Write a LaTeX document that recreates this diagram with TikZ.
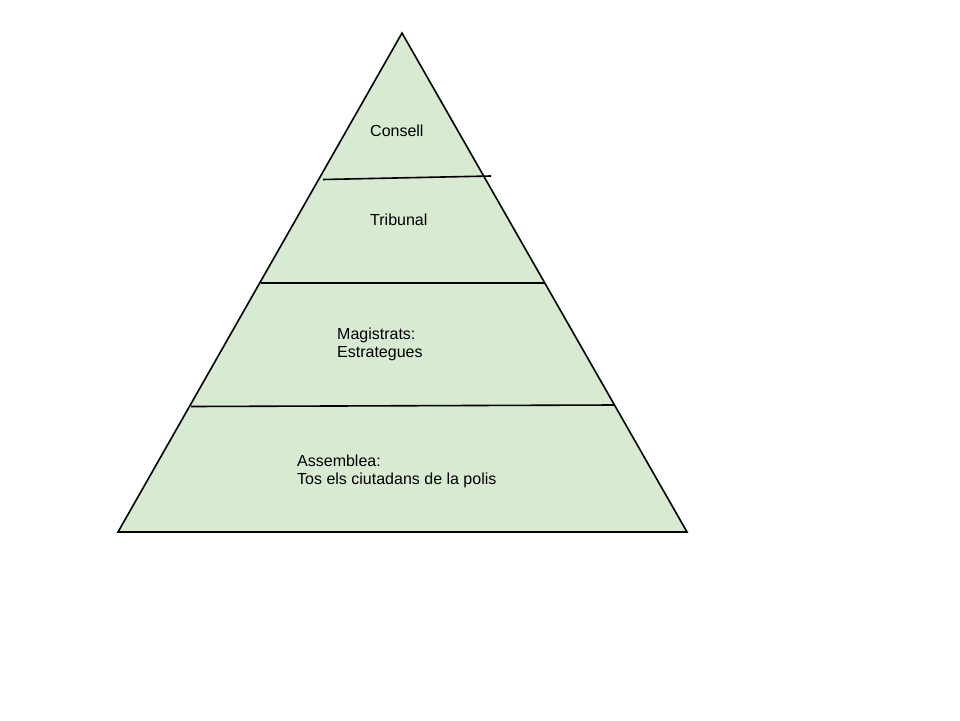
\documentclass[tikz,border=0pt]{standalone}
\usepackage{fontspec}
\setmainfont{Liberation Sans}
\definecolor{pyrgreen}{HTML}{D9EAD3}
\begin{document}
\begin{tikzpicture}[x=1pt,y=-1pt,
  edge/.style={line width=1.6pt,line join=miter},
  lbl/.style={anchor=west,inner sep=0pt,align=left,font=\fontsize{16}{18}\selectfont}]
\useasboundingbox (0,0) rectangle (960,720);
\coordinate (apex) at (402,33);
\coordinate (bl) at (118,532);
\coordinate (br) at (687,532);
\filldraw[edge,fill=pyrgreen] (apex) -- (br) -- (bl) -- cycle;
\coordinate (l1a) at (323,179.5);
\coordinate (l1b) at (491,176);
\coordinate (l2a) at (261,283);
\coordinate (l2b) at (545,283);
\coordinate (l3a) at (191,406.5);
\coordinate (l3b) at (614,405);
\draw[edge] (l1a) -- (l1b);
\draw[edge] (l2a) -- (l2b);
\draw[edge] (l3a) -- (l3b);
\node[lbl] (consell) at (370,131) {Consell};
\node[lbl] (tribunal) at (370,220) {Tribunal};
\node[lbl] (magis) at (337,344) {Magistrats:\\Estrategues};
\node[lbl] (assem) at (297,471) {Assemblea:\\Tos els ciutadans de la polis};
\end{tikzpicture}
\end{document}
